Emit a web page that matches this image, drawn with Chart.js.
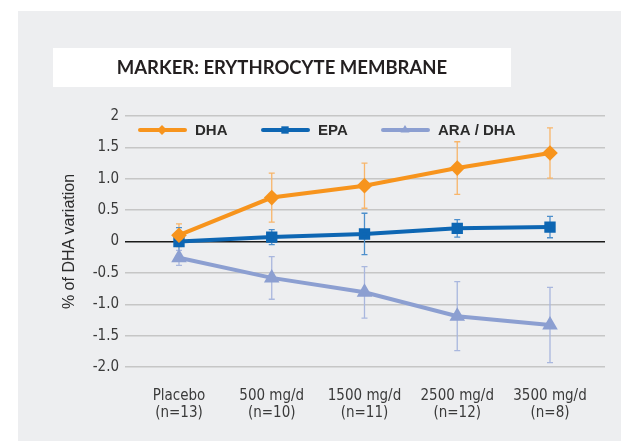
<!DOCTYPE html>
<html>
<head>
<meta charset="utf-8">
<script src="https://cdn.jsdelivr.net/npm/chart.js@4"></script>
<style>
  html, body { margin: 0; padding: 0; background: #fff; }
  #wrap { width: 621px; height: 441px; position: relative; }
</style>
</head>
<body>
<div id="wrap"><canvas id="chart" width="621" height="441"></canvas></div>
<script>
// data
const categories = [['Placebo', '(n=13)'], ['500 mg/d', '(n=10)'], ['1500 mg/d', '(n=11)'], ['2500 mg/d', '(n=12)'], ['3500 mg/d', '(n=8)']];
const dhaValues = [0.1, 0.7, 0.89, 1.17, 1.41];
const dhaErrors = [0.18, 0.39, 0.36, 0.42, 0.4];
const epaValues = [0, 0.07, 0.12, 0.21, 0.23];
const epaErrors = [0.22, 0.12, 0.33, 0.14, 0.17];
const araValues = [-0.26, -0.58, -0.81, -1.19, -1.33];
const araErrors = [0.12, 0.34, 0.41, 0.55, 0.6];
const yTickValues = [2, 1.5, 1, 0.5, 0, -0.5, -1, -1.5, -2];
const yTickLabels = ['2', '1.5', '1.0', '0.5', '0', '-0.5', '-1.0', '-1.5', '-2.0'];

const narrow = "'Liberation Sans Narrow', 'DejaVu Sans Condensed', 'Liberation Sans', sans-serif";

function pts(vals) {
    return vals.map((v, i) => ({x: i, y: v}));
}

// gray panel + white title box
const background = {
    id: 'background',
    beforeDraw(chart) {
        const ctx = chart.ctx;
        ctx.save();
        ctx.fillStyle = '#edeef0';
        ctx.fillRect(18, 11, 603, 430);
        ctx.fillStyle = '#ffffff';
        ctx.fillRect(53, 48, 458, 39);
        ctx.fillStyle = '#231f20';
        ctx.font = "bold 18.5px Lato, 'Liberation Sans', sans-serif";
        ctx.textAlign = 'center';
        ctx.textBaseline = 'middle';
        ctx.fillText('MARKER: ERYTHROCYTE MEMBRANE', 282, 68);
        ctx.restore();
    }
};

// vertical error bars with caps
const errorBars = {
    id: 'errorBars',
    beforeDatasetsDraw(chart) {
        const ctx = chart.ctx;
        const yScale = chart.scales.y;
        chart.data.datasets.forEach((ds, di) => {
            const meta = chart.getDatasetMeta(di);
            ctx.save();
            ctx.strokeStyle = ds.errorColor;
            ctx.lineWidth = 1.3;
            meta.data.forEach((pt, i) => {
                const v = ds.data[i].y;
                const e = ds.errors[i];
                const top = yScale.getPixelForValue(v + e);
                const bot = yScale.getPixelForValue(v - e);
                ctx.beginPath();
                ctx.moveTo(pt.x, top);
                ctx.lineTo(pt.x, bot);
                ctx.moveTo(pt.x - 3, top);
                ctx.lineTo(pt.x + 3, top);
                ctx.moveTo(pt.x - 3, bot);
                ctx.lineTo(pt.x + 3, bot);
                ctx.stroke();
            });
            ctx.restore();
        });
    }
};

// legend: line with marker, inside the plot
const lineLegend = {
    id: 'lineLegend',
    afterDraw(chart) {
        const ctx = chart.ctx;
        const starts = [140, 263, 383];
        const y = 130;
        chart.data.datasets.forEach((ds, i) => {
            const x0 = starts[i];
            ctx.save();
            ctx.strokeStyle = ds.borderColor;
            ctx.fillStyle = ds.borderColor;
            ctx.lineWidth = 4;
            ctx.lineCap = 'round';
            ctx.beginPath();
            ctx.moveTo(x0, y);
            ctx.lineTo(x0 + 45, y);
            ctx.stroke();
            const cx = x0 + 22, r = ds.pointRadius;
            ctx.beginPath();
            if (ds.pointStyle === 'rectRot') {
                ctx.moveTo(cx, y - r); ctx.lineTo(cx + r, y); ctx.lineTo(cx, y + r); ctx.lineTo(cx - r, y);
            } else if (ds.pointStyle === 'rect') {
                const s = r * Math.SQRT1_2;
                ctx.rect(cx - s, y - s, 2 * s, 2 * s);
            } else {
                ctx.moveTo(cx, y - r); ctx.lineTo(cx + r * 0.9, y + r * 0.5); ctx.lineTo(cx - r * 0.9, y + r * 0.5);
            }
            ctx.closePath();
            ctx.fill();
            ctx.fillStyle = '#2b2b2b';
            ctx.font = "bold 15px 'Liberation Sans', sans-serif";
            ctx.textBaseline = 'middle';
            ctx.fillText(ds.label, x0 + 55, y + 1);
            ctx.restore();
        });
    }
};

new Chart(document.getElementById('chart'), {
    type: 'line',
    data: {
        datasets: [
            {
                label: 'DHA', data: pts(dhaValues), errors: dhaErrors,
                borderColor: '#f7941d', backgroundColor: '#f7941d', errorColor: '#f8b56a',
                pointStyle: 'rectRot', pointRadius: 5, borderWidth: 4
            },
            {
                label: 'EPA', data: pts(epaValues), errors: epaErrors,
                borderColor: '#0d66b3', backgroundColor: '#0d66b3', errorColor: '#4d8fcc',
                pointStyle: 'rect', pointRadius: 5.2, borderWidth: 4
            },
            {
                label: 'ARA / DHA', data: pts(araValues), errors: araErrors,
                borderColor: '#8c9fd1', backgroundColor: '#8c9fd1', errorColor: '#a9b7de',
                pointStyle: 'triangle', pointRadius: 5, borderWidth: 4
            }
        ]
    },
    options: {
        responsive: false,
        animation: false,
        clip: false,
        layout: { padding: { top: 116, right: 16, left: 0, bottom: 0 } },
        plugins: {
            legend: { display: false },
            tooltip: { enabled: false }
        },
        elements: {
            line: { tension: 0 },
            point: { borderWidth: 0, hoverRadius: 5 }
        },
        scales: {
            x: {
                type: 'linear',
                min: -0.582,
                max: 4.593,
                grid: { display: false },
                border: { display: false },
                afterBuildTicks: (scale) => {
                    scale.ticks = categories.map((c, i) => ({value: i}));
                },
                afterFit: (scale) => { scale.height = 74; },
                ticks: {
                    padding: 12,
                    maxRotation: 0,
                    autoSkip: false,
                    color: '#3a3a3a',
                    font: { family: narrow, size: 15, lineHeight: 1.15 },
                    callback: (v) => categories[v]
                }
            },
            y: {
                min: -2,
                max: 2,
                afterBuildTicks: (scale) => {
                    scale.ticks = yTickValues.map(v => ({value: v}));
                },
                afterFit: (scale) => { scale.width = 125; },
                border: { display: false },
                grid: {
                    drawTicks: false,
                    lineWidth: 1.5,
                    color: (c) => c.tick && c.tick.value === 0 ? '#1a1a1a' : '#c6c6c6'
                },
                ticks: {
                    padding: 6,
                    color: '#3a3a3a',
                    font: { family: narrow, size: 15 },
                    callback: (v) => yTickLabels[yTickValues.indexOf(v)]
                },
                title: {
                    display: true,
                    text: '% of DHA variation',
                    color: '#2b2b2b',
                    padding: { top: 60, bottom: 0 },
                    font: { family: "'Liberation Sans', sans-serif", size: 16 }
                }
            }
        }
    },
    plugins: [background, errorBars, lineLegend]
});
</script>
</body>
</html>
